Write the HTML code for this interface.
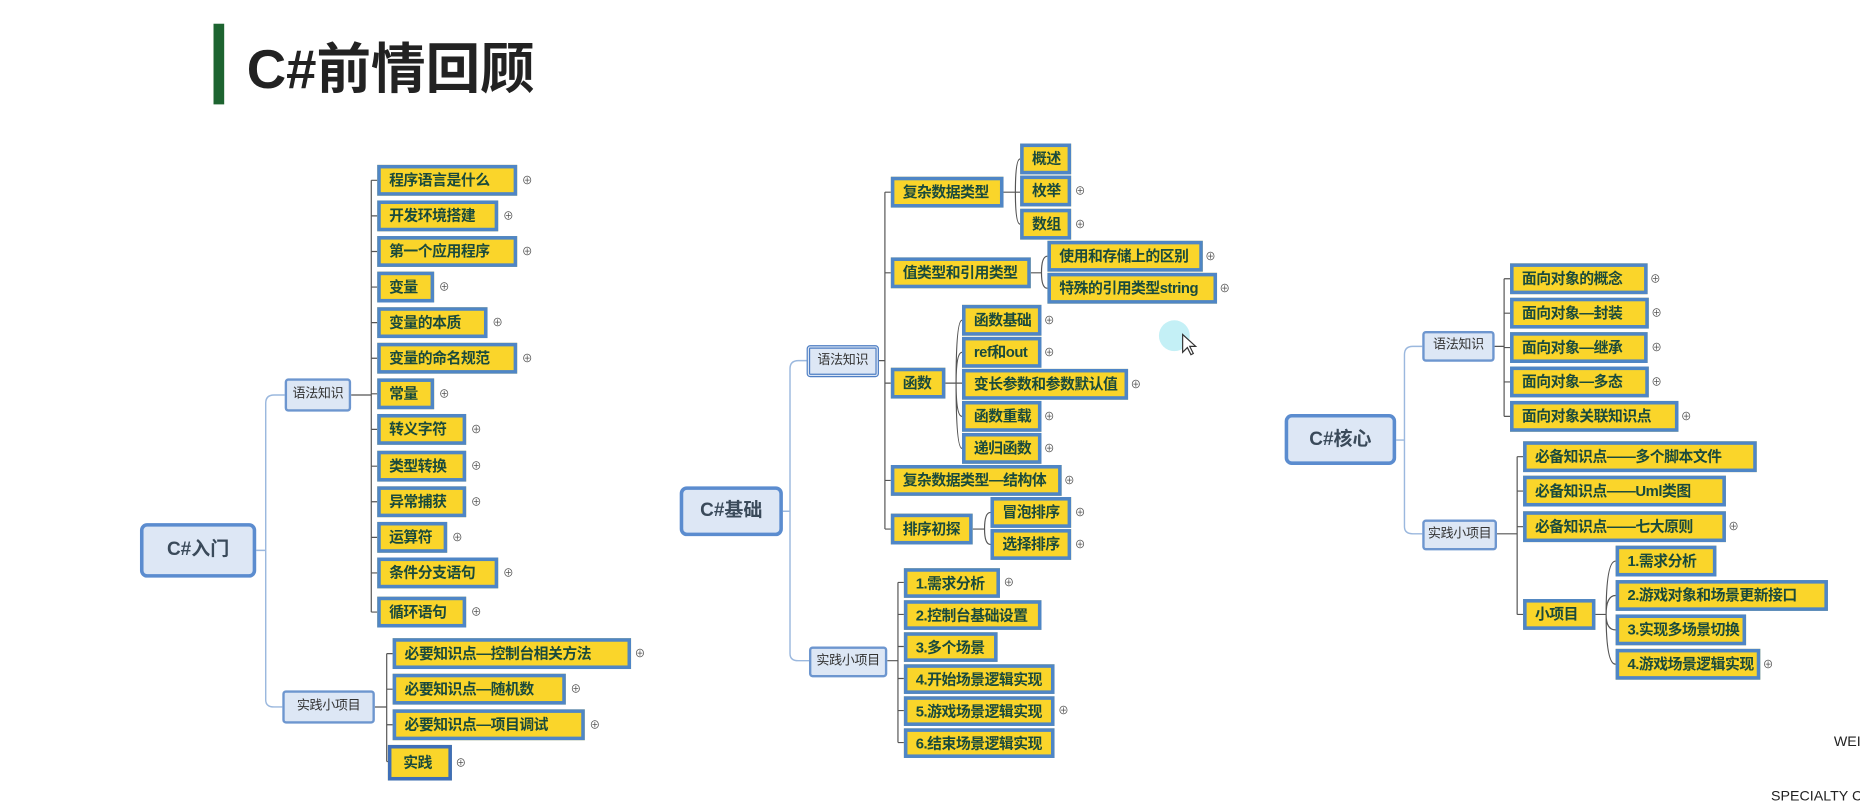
<!DOCTYPE html>
<html><head><meta charset="utf-8"><style>
html,body{margin:0;padding:0;background:#fff;width:1860px;height:810px;overflow:hidden}
#w{position:absolute;left:0;top:0;width:1568px;height:683px;transform:scale(1.1862);transform-origin:0 0;font-family:"Liberation Sans","Noto Sans CJK SC",sans-serif}
.y{position:absolute;height:26px;background:#fad52a;border:3px solid #4f86c6;box-sizing:border-box;font-weight:bold;font-size:12.5px;letter-spacing:-0.4px;color:#1a4a3c;padding-left:7px;line-height:20px;white-space:nowrap;overflow:hidden}
.y.s{height:25px}
.p{position:absolute;font-size:9px;color:#555;line-height:10px}
.b{position:absolute;background:#dde7f5;border:2px solid #6d96cf;border-radius:3px;box-sizing:border-box;font-size:11px;letter-spacing:-0.3px;color:#333;text-align:center;line-height:22px;white-space:nowrap}
.r{position:absolute;background:#dde7f5;border:3px solid #5b8ccf;border-radius:6px;box-sizing:border-box;font-size:16px;font-weight:bold;color:#3a4a5a;text-align:center}
svg{position:absolute;left:0;top:0}
</style></head><body><div id="w">
<div style="position:absolute;left:180px;top:20px;width:9px;height:68px;background:#1d6430"></div>
<div style="position:absolute;left:208px;top:28px;font-size:46px;font-weight:bold;color:#222;line-height:60px">C#前情回顾</div>

<svg width="1568" height="683" fill="none">
<g stroke="#9bb8de" stroke-width="1.2">
<path d="M216 464H224V340Q224 333 231 333H240M224 464V590Q224 596 231 596H238"/>
<path d="M660 431H666V311Q666 304 673 304H680M666 431V551Q666 557 673 557H682"/>
<path d="M1177 371H1184V299Q1184 292 1191 292H1199M1184 371V444Q1184 450 1191 450H1199"/>
</g>
<g stroke="#555" stroke-width="1">
<path d="M296 333H313M313 152V516M313 152h5M313 182h5M313 212h5M313 242h5M313 272h5M313 302h5M313 332h5M313 362h5M313 393h5M313 423h5M313 453h5M313 483h5M313 516h5"/>
<path d="M316 596H326M326 551V642M326 551h5M326 581h5M326 611h5M326 642h3"/>
<path d="M741 304H746M746 162V446M746 162h5M746 230h5M746 323h5M746 405h5M746 446h5"/>
<path d="M846 162H856M856 162Q856 134 860 134M856 162H860M856 162Q856 189 860 189"/>
<path d="M869 230H878M878 230Q878 216 883 216M878 230Q878 243 883 243"/>
<path d="M797 323H806M806 323Q806 270 811 270M806 323Q806 297 811 297M806 323H811M806 323Q806 351 811 351M806 323Q806 378 811 378"/>
<path d="M820 446H830M830 446Q830 432 835 432M830 446Q830 459 835 459"/>
<path d="M748 557H757M757 491V626M757 491h5M757 518h5M757 545h5M757 572h5M757 599h5M757 626h5"/>
<path d="M1260 292H1268M1268 235V351M1268 235h5M1268 264h5M1268 293h5M1268 322h5M1268 351h5"/>
<path d="M1262 450H1279M1279 385V518M1279 385h5M1279 414h5M1279 444h5M1279 518h5"/>
<path d="M1345 518H1354M1354 518Q1354 473 1362 473M1354 518Q1354 502 1362 502M1354 518Q1354 531 1362 531M1354 518Q1354 560 1362 560"/>
</g>
<circle cx="990" cy="283" r="13" fill="#c4f0f6"/>
<path d="M997 282v15l4-4 3 6 2-1-3-6h5z" fill="#fff" stroke="#333" stroke-width="1"/>
</svg>

<div class="r" style="left:118px;top:441px;width:98px;height:46px;line-height:40px">C#入门</div>
<div class="b" style="left:240px;top:319px;width:56px;height:28px">语法知识</div>
<div class="b" style="left:238px;top:582px;width:78px;height:28px">实践小项目</div>
<div class="y" style="left:318px;top:139px;width:118px">程序语言是什么</div><span class="p" style="left:440px;top:147px">⊕</span>
<div class="y" style="left:318px;top:169px;width:102px">开发环境搭建</div><span class="p" style="left:424px;top:177px">⊕</span>
<div class="y" style="left:318px;top:199px;width:118px">第一个应用程序</div><span class="p" style="left:440px;top:207px">⊕</span>
<div class="y" style="left:318px;top:229px;width:48px">变量</div><span class="p" style="left:370px;top:237px">⊕</span>
<div class="y" style="left:318px;top:259px;width:93px">变量的本质</div><span class="p" style="left:415px;top:267px">⊕</span>
<div class="y" style="left:318px;top:289px;width:118px">变量的命名规范</div><span class="p" style="left:440px;top:297px">⊕</span>
<div class="y" style="left:318px;top:319px;width:48px">常量</div><span class="p" style="left:370px;top:327px">⊕</span>
<div class="y" style="left:318px;top:349px;width:75px">转义字符</div><span class="p" style="left:397px;top:357px">⊕</span>
<div class="y" style="left:318px;top:380px;width:75px">类型转换</div><span class="p" style="left:397px;top:388px">⊕</span>
<div class="y" style="left:318px;top:410px;width:75px">异常捕获</div><span class="p" style="left:397px;top:418px">⊕</span>
<div class="y" style="left:318px;top:440px;width:59px">运算符</div><span class="p" style="left:381px;top:448px">⊕</span>
<div class="y" style="left:318px;top:470px;width:102px">条件分支语句</div><span class="p" style="left:424px;top:478px">⊕</span>
<div class="y" style="left:318px;top:503px;width:75px">循环语句</div><span class="p" style="left:397px;top:511px">⊕</span>
<div class="y" style="left:331px;top:538px;width:201px">必要知识点—控制台相关方法</div><span class="p" style="left:535px;top:546px">⊕</span>
<div class="y" style="left:331px;top:568px;width:146px">必要知识点—随机数</div><span class="p" style="left:481px;top:576px">⊕</span>
<div class="y" style="left:331px;top:598px;width:162px">必要知识点—项目调试</div><span class="p" style="left:497px;top:606px">⊕</span>
<div class="y" style="left:327px;top:628px;width:54px;height:30px;border-color:#3f6fb8;line-height:24px;padding-left:10px">实践</div><span class="p" style="left:384px;top:638px">⊕</span>

<div class="r" style="left:573px;top:410px;width:87px;height:42px;line-height:36px">C#基础</div>
<div class="b" style="left:680px;top:291px;width:61px;height:27px;border:3px double #4f7fc4;line-height:20px">语法知识</div>
<div class="b" style="left:682px;top:545px;width:66px;height:26px;line-height:21px">实践小项目</div>
<div class="y" style="left:751px;top:149px;width:95px">复杂数据类型</div>
<div class="y" style="left:860px;top:121px;width:43px">概述</div>
<div class="y" style="left:860px;top:148px;width:43px">枚举</div><span class="p" style="left:906px;top:156px">⊕</span>
<div class="y" style="left:860px;top:176px;width:43px">数组</div><span class="p" style="left:906px;top:184px">⊕</span>
<div class="y" style="left:751px;top:217px;width:118px">值类型和引用类型</div>
<div class="y" style="left:883px;top:203px;width:131px">使用和存储上的区别</div><span class="p" style="left:1016px;top:211px">⊕</span>
<div class="y" style="left:883px;top:230px;width:143px">特殊的引用类型string</div><span class="p" style="left:1028px;top:238px">⊕</span>
<div class="y" style="left:751px;top:310px;width:46px">函数</div>
<div class="y" style="left:811px;top:257px;width:67px">函数基础</div><span class="p" style="left:880px;top:265px">⊕</span>
<div class="y" style="left:811px;top:284px;width:67px">ref和out</div><span class="p" style="left:880px;top:292px">⊕</span>
<div class="y" style="left:811px;top:311px;width:140px">变长参数和参数默认值</div><span class="p" style="left:953px;top:319px">⊕</span>
<div class="y" style="left:811px;top:338px;width:67px">函数重载</div><span class="p" style="left:880px;top:346px">⊕</span>
<div class="y" style="left:811px;top:365px;width:67px">递归函数</div><span class="p" style="left:880px;top:373px">⊕</span>
<div class="y" style="left:751px;top:392px;width:144px">复杂数据类型—结构体</div><span class="p" style="left:897px;top:400px">⊕</span>
<div class="y" style="left:751px;top:433px;width:69px">排序初探</div>
<div class="y" style="left:835px;top:419px;width:68px">冒泡排序</div><span class="p" style="left:906px;top:427px">⊕</span>
<div class="y" style="left:835px;top:446px;width:68px">选择排序</div><span class="p" style="left:906px;top:454px">⊕</span>
<div class="y s" style="left:762px;top:479px;width:81px">1.需求分析</div><span class="p" style="left:846px;top:486px">⊕</span>
<div class="y s" style="left:762px;top:506px;width:116px">2.控制台基础设置</div>
<div class="y s" style="left:762px;top:533px;width:79px">3.多个场景</div>
<div class="y s" style="left:762px;top:560px;width:127px">4.开始场景逻辑实现</div>
<div class="y s" style="left:762px;top:587px;width:127px">5.游戏场景逻辑实现</div><span class="p" style="left:892px;top:594px">⊕</span>
<div class="y s" style="left:762px;top:614px;width:127px">6.结束场景逻辑实现</div>

<div class="r" style="left:1083px;top:349px;width:94px;height:43px;line-height:37px">C#核心</div>
<div class="b" style="left:1199px;top:279px;width:61px;height:26px;line-height:21px">语法知识</div>
<div class="b" style="left:1199px;top:438px;width:63px;height:26px;line-height:21px">实践小项目</div>
<div class="y" style="left:1273px;top:222px;width:116px">面向对象的概念</div><span class="p" style="left:1391px;top:230px">⊕</span>
<div class="y" style="left:1273px;top:251px;width:117px">面向对象—封装</div><span class="p" style="left:1392px;top:259px">⊕</span>
<div class="y" style="left:1273px;top:280px;width:116px">面向对象—继承</div><span class="p" style="left:1392px;top:288px">⊕</span>
<div class="y" style="left:1273px;top:309px;width:117px">面向对象—多态</div><span class="p" style="left:1392px;top:317px">⊕</span>
<div class="y" style="left:1273px;top:338px;width:142px">面向对象关联知识点</div><span class="p" style="left:1417px;top:346px">⊕</span>
<div class="y" style="left:1284px;top:372px;width:197px">必备知识点——多个脚本文件</div>
<div class="y" style="left:1284px;top:401px;width:171px">必备知识点——Uml类图</div>
<div class="y" style="left:1284px;top:431px;width:171px">必备知识点——七大原则</div><span class="p" style="left:1457px;top:439px">⊕</span>
<div class="y" style="left:1284px;top:505px;width:61px">小项目</div>
<div class="y" style="left:1362px;top:460px;width:85px">1.需求分析</div>
<div class="y" style="left:1362px;top:489px;width:179px">2.游戏对象和场景更新接口</div>
<div class="y" style="left:1362px;top:518px;width:110px">3.实现多场景切换</div>
<div class="y" style="left:1362px;top:547px;width:122px">4.游戏场景逻辑实现</div><span class="p" style="left:1486px;top:555px">⊕</span>

<div style="position:absolute;left:1546px;top:618px;font-size:12px;color:#222">WEI</div>
<div style="position:absolute;left:1493px;top:664px;font-size:12px;color:#222;white-space:nowrap">SPECIALTY C</div>
</div></body></html>
